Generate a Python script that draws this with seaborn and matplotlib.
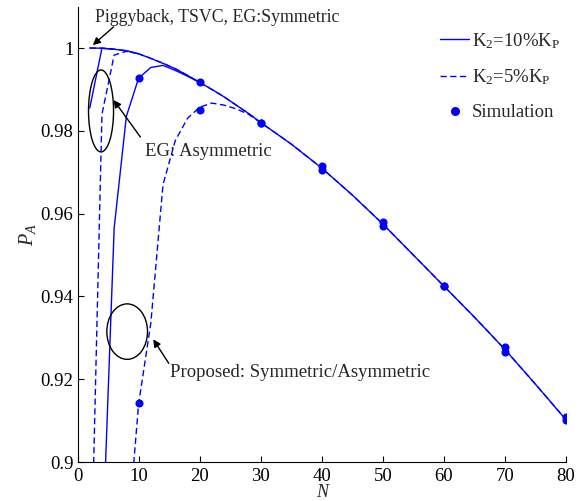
import matplotlib
matplotlib.use("Agg")
import matplotlib.pyplot as plt
from matplotlib.patches import Ellipse
from matplotlib.lines import Line2D
import seaborn as sns

# Piggyback / TSVC / EG:Symmetric (identical for both K2 settings)
n_common = [2, 4, 6, 8, 10, 12, 14, 16, 18, 20, 22, 24, 26, 28, 30,
            35, 40, 45, 50, 55, 60, 65, 70, 75, 80]
pa_common = [1.0, 0.99995, 0.9997, 0.99935, 0.9986, 0.9975, 0.9963, 0.9950,
             0.9934, 0.9917, 0.9900, 0.9882, 0.9862, 0.9842, 0.9820,
             0.9768, 0.9710, 0.9645, 0.9575, 0.9500, 0.9425, 0.9350,
             0.9272, 0.9188, 0.9102]

# EG: Asymmetric
n_eg_10 = [2, 4, 6]
pa_eg_10 = [0.9855, 0.99995, 0.9997]
n_eg_5 = [2, 4, 6, 8, 10]
pa_eg_5 = [0.860, 0.984, 0.9983, 0.9992, 0.9986]

# Proposed: Symmetric/Asymmetric
n_prop_10 = [4, 6, 8, 10, 12, 14, 16, 18, 20]
pa_prop_10 = [0.876, 0.9565, 0.9835, 0.9927, 0.9953, 0.9958, 0.9946,
              0.9932, 0.9917]
n_prop_5 = [8, 10, 12, 14, 16, 18, 20, 22, 24, 26, 28, 30]
pa_prop_5 = [0.878, 0.914, 0.9335, 0.967, 0.9776, 0.983, 0.9857, 0.9867,
             0.9862, 0.9853, 0.984, 0.982]

# Simulation results
n_sim = [10, 20, 30, 40, 50, 60, 70, 80]
pa_sim_10 = [0.9927, 0.9917, 0.9820, 0.9714, 0.9580, 0.9425, 0.9278, 0.9108]
pa_sim_5 = [0.9143, 0.9850, 0.9819, 0.9706, 0.9570, 0.9424, 0.9266, 0.9101]

x_ticks = [0, 10, 20, 30, 40, 50, 60, 70, 80]
y_ticks = [0.90, 0.92, 0.94, 0.96, 0.98, 1.00]
y_tick_labels = ["0.9", "0.92", "0.94", "0.96", "0.98", "1"]
legend_labels = [r"K$_2$=10%K$_\mathrm{P}$", r"K$_2$=5%K$_\mathrm{P}$",
                 "Simulation"]

sns.set_style("ticks")
plt.rcParams["font.family"] = ["Liberation Serif", "DejaVu Serif"]
plt.rcParams["mathtext.fontset"] = "custom"
plt.rcParams["mathtext.rm"] = "Liberation Serif"
plt.rcParams["mathtext.it"] = "Liberation Serif:italic"
plt.rcParams["mathtext.bf"] = "Liberation Serif:bold"

BLUE = "#0000ff"
FS = 13.5

fig = plt.figure(figsize=(5.79, 5.01), dpi=100)
ax = fig.add_axes([0.1339, 0.0778, 0.9775 - 0.1339, 0.9868 - 0.0778])

dash = (4.5, 2.5)
solid_sets = [(n_common, pa_common), (n_eg_10, pa_eg_10),
              (n_prop_10, pa_prop_10)]
dashed_sets = [(n_common, pa_common), (n_eg_5, pa_eg_5),
               (n_prop_5, pa_prop_5)]
for xs, ys in solid_sets:
    sns.lineplot(x=xs, y=ys, ax=ax, color=BLUE, lw=1.0, sort=False,
                 estimator=None)
for xs, ys in dashed_sets:
    sns.lineplot(x=xs, y=ys, ax=ax, color=BLUE, lw=1.0, sort=False,
                 estimator=None, linestyle=(0, dash))

for ys in (pa_sim_10, pa_sim_5):
    sns.scatterplot(x=n_sim, y=ys, ax=ax, color=BLUE, edgecolor=BLUE,
                    s=34, linewidth=0, zorder=5)

ax.set_xlim(0, 80)
ax.set_ylim(0.9, 1.01)
ax.set_xticks(x_ticks)
ax.set_xticklabels([str(t) for t in x_ticks])
ax.set_yticks(y_ticks)
ax.set_yticklabels(y_tick_labels)
ax.tick_params(direction="in", length=4, width=0.8, labelsize=FS,
               colors="black")
ax.tick_params(axis="x", pad=4.5)
ax.tick_params(axis="y", pad=3)
sns.despine(ax=ax)
for s in ("left", "bottom"):
    ax.spines[s].set_color("black")
    ax.spines[s].set_linewidth(0.8)

ax.set_xlabel("N", fontsize=13, fontstyle="italic", labelpad=-1)
ax.set_ylabel(r"$P_A$", fontsize=FS + 1, labelpad=2)

# Ellipses marking curve groups
ax.add_patch(Ellipse((3.85, 0.9848), 4.1, 0.0198, fill=False,
                     ec="black", lw=1.0, zorder=6))
ax.add_patch(Ellipse((8.13, 0.9315), 6.66, 0.0134, fill=False,
                     ec="black", lw=1.0, zorder=6))

arrow = dict(arrowstyle="-|>", color="black", lw=1.0, mutation_scale=11,
             shrinkA=0, shrinkB=0)
ax.annotate("", xy=(2.5, 1.0007), xytext=(5.9, 1.0051), arrowprops=arrow)
ax.text(2.9, 1.00725, "Piggyback, TSVC, EG:Symmetric", fontsize=12.8,
        ha="left", va="center")
ax.annotate("", xy=(5.9, 0.98744), xytext=(10.3, 0.9785), arrowprops=arrow)
ax.text(11.1, 0.9749, "EG: Asymmetric", fontsize=FS, ha="left",
        va="center")
ax.annotate("", xy=(12.4, 0.92964), xytext=(14.94, 0.92384),
            arrowprops=arrow)
ax.text(15.1, 0.92157, "Proposed: Symmetric/Asymmetric", fontsize=FS,
        ha="left", va="center")

handles = [Line2D([], [], color=BLUE, lw=1.0),
           Line2D([], [], color=BLUE, lw=1.0, linestyle=(0, dash)),
           Line2D([], [], color=BLUE, lw=0, marker="o", markersize=6.5,
                  markeredgewidth=0)]
fig.legend(handles, legend_labels, loc="upper left",
           bbox_to_anchor=(440 / 579, 1 - 31 / 501), frameon=False,
           fontsize=FS, handlelength=1.55, handletextpad=0.15,
           labelspacing=0.9, borderpad=0, borderaxespad=0)

fig.savefig("out.png", dpi=100)
